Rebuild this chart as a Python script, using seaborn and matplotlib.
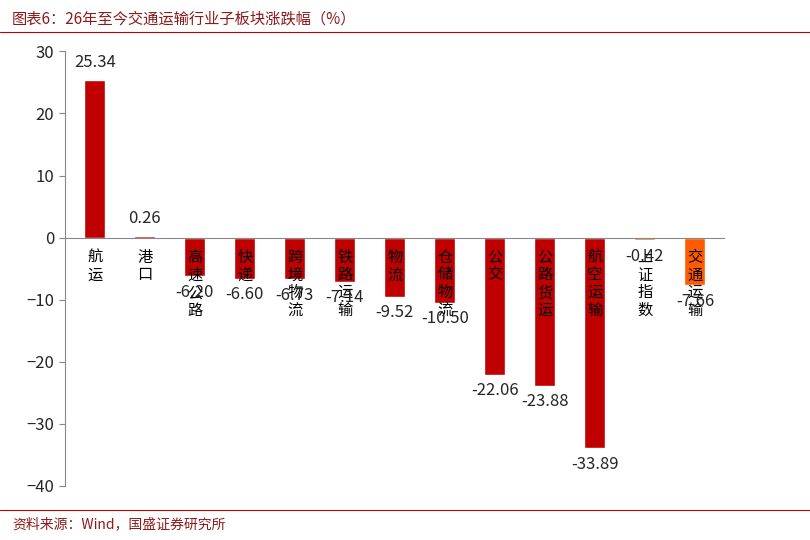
import seaborn as sns
import matplotlib.pyplot as plt
import pandas as pd

categories = ["航运", "港口", "高速公路", "快递", "跨境物流", "铁路运输", "物流", "仓储物流",
              "公交", "公路货运", "航空运输", "上证指数", "交通运输"]
values = [25.34, 0.26, -6.20, -6.60, -6.73, -7.14, -9.52, -10.50, -22.06, -23.88, -33.89, -0.42, -7.66]
colors = ["#C00000"] * 11 + ["#E26B0A", "#FF5A00"]

sns.set_style("white")
plt.rcParams['font.family'] = ['Noto Sans CJK SC', 'DejaVu Sans']

df = pd.DataFrame({"cat": categories, "val": values})
fig = plt.figure(figsize=(8.1, 5.4), dpi=100)
ax = fig.add_axes([0.08, 0.10, 0.815, 0.805])
sns.barplot(data=df, x="cat", y="val", hue="cat", palette=colors, legend=False,
            width=0.42, ax=ax, saturation=1)

ax.set_ylim(-40, 30)
ax.set_yticks(range(-40, 31, 10))
ax.set_xlim(-0.6, 12.6)
ax.axhline(0, color="#888888", lw=0.8)
for s in ["top", "right", "bottom"]:
    ax.spines[s].set_visible(False)
ax.spines["left"].set_color("#888888")
ax.tick_params(axis="y", labelsize=12, left=True, length=4, color="#888888")
ax.set_xticks([])
ax.set_xlabel("")
ax.set_ylabel("")

for i, (c, v) in enumerate(zip(categories, values)):
    ax.text(i, -1.8, "\n".join(c), ha="center", va="top", fontsize=11, linespacing=1.05,
            color="black")
    if v >= 0:
        ax.text(i, v + 1.5, f"{v:.2f}", ha="center", va="bottom", fontsize=12)
    else:
        ax.text(i, v - 1.2, f"{v:.2f}", ha="center", va="top", fontsize=12)

fig.text(0.015, 0.965, "图表6：26年至今交通运输行业子板块涨跌幅（%）", fontsize=11,
         color="#8B1A1A", style="italic", va="center")
fig.text(0.015, 0.03, "资料来源：Wind，国盛证券研究所", fontsize=10,
         color="#8B1A1A", style="italic", va="center")
fig.add_artist(plt.Line2D([0.0, 1.0], [0.94, 0.94], color="#C00000", lw=0.8))
fig.add_artist(plt.Line2D([0.0, 1.0], [0.055, 0.055], color="#C00000", lw=0.8))

fig.savefig("out.png", dpi=100)
